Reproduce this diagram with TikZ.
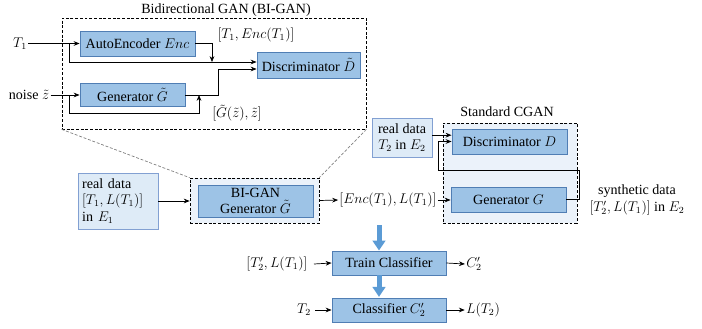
\documentclass[tikz,border=0pt]{standalone}
\usepackage{fontspec}
\setmainfont{Liberation Serif}
\usetikzlibrary{arrows.meta,positioning}
\definecolor{boxfill}{RGB}{157,195,230}
\definecolor{boxline}{RGB}{80,126,180}
\definecolor{datafill}{RGB}{222,235,247}
\definecolor{dataline}{RGB}{130,160,210}
\definecolor{lightfill}{RGB}{235,242,250}
\definecolor{bigblue}{RGB}{91,155,213}
\tikzset{
  block/.style={draw=boxline, fill=boxfill, line width=0.8pt, minimum width=3.45cm, minimum height=0.75cm, inner sep=1pt},
  databox/.style={draw=dataline, fill=datafill, line width=0.8pt, inner sep=2pt},
  dashbox/.style={draw, dash pattern=on 2.5pt off 1.5pt, line width=0.6pt, inner sep=0pt},
  lab/.style={inner sep=1pt},
  flow/.style={-{Stealth[length=5pt,width=4pt]}, line width=0.6pt},
  bigarrow/.style={-{Triangle[length=0.3cm,width=0.38cm]}, bigblue, line width=0.15cm},
}

\begin{document}
\begin{tikzpicture}[x=0.03cm, y=-0.03cm, font=\rmfamily\fontsize{12}{14}\selectfont]
  \useasboundingbox (0,0) rectangle (702,328);

  \node[dashbox, minimum width=9.12cm, minimum height=3.33cm] (bigan) at (214,73.5) {};
  \node[lab] (bigantitle) at (226,10) {Bidirectional GAN (BI-GAN)};
  \node[block] (enc) at (137.5,43.5) {AutoEncoder $Enc$};
  \node[block, minimum width=3.09cm, minimum height=0.78cm] (disc1) at (308.5,65) {Discriminator $\tilde{D}$};
  \node[block, minimum width=3.15cm, minimum height=0.69cm] (gen1) at (132.5,95) {Generator $\tilde{G}$};
  \node[lab] (t1) at (20,43.5) {$T_1$};
  \node[lab] (noise) at (29,95) {noise $\tilde{z}$};
  \node[lab] (enclab1) at (256,35) {$[T_1, Enc(T_1)]$};
  \node[lab] (genlab1) at (237,113) {$[\tilde{G}(\tilde{z}), \tilde{z}]$};

  \coordinate (b1) at (69,43.5);
  \coordinate (b2) at (212,62);
  \coordinate (b3) at (218,69);
  \coordinate (b4) at (69,95);
  \coordinate (b5) at (199,113);

  \draw[flow] (t1.east) -- (enc.west);
  \draw[flow] (b1) |- (b2 -| disc1.west);
  \draw[flow] (enc.east) -| (b2);
  \draw[flow] (gen1.east) -| (b3) -- (b3 -| disc1.west);
  \draw[flow] (noise.east) -- (gen1.west);
  \draw[flow] (b4) |- (b5) -- (b5 |- gen1.east);

  \node[dashbox, fill=lightfill, minimum width=3.87cm, minimum height=1.35cm] (sg) at (254.5,200.5) {};
  \draw[gray, dash pattern=on 2.5pt off 1.5pt, line width=0.6pt] (bigan.south west) -- (sg.north west);
  \draw[gray, dash pattern=on 2.5pt off 1.5pt, line width=0.6pt] (bigan.south east) -- (sg.north east);
  \node[block, minimum height=0.96cm, align=center, font=\rmfamily\fontsize{12}{13}\selectfont] (bigangen) at (255.5,201) {BI-GAN\\Generator $\tilde{G}$};
  \node[databox, minimum width=2.4cm, minimum height=1.68cm, text width=2.15cm, align=left] (real1) at (118,201) {real data\\$[T_1, L(T_1)]$\\in $E_1$};
  \node[lab] (enclab2) at (388,200) {$[Enc(T_1), L(T_1)]$};

  \node[dashbox, fill=lightfill, minimum width=4.02cm, minimum height=3cm] (cgan) at (510,173) {};
  \node[lab] (cgantitle) at (507,112) {Standard CGAN};
  \node[block, minimum height=0.75cm] (disc2) at (509.5,141.5) {Discriminator $D$};
  \node[block, minimum height=0.75cm] (gen2) at (508.5,199.5) {Generator $G$};
  \node[databox, minimum width=1.8cm, minimum height=1.17cm, align=center] (real2) at (402,137.5) {real data\\$T_2$ in $E_2$};
  \node[lab, align=center] (synth) at (637,200) {synthetic data\\$[T_2', L(T_1)]$ in $E_2$};

  \coordinate (d2in) at ([yshift=0.19cm]disc2.west);
  \coordinate (fb1) at (579,170);
  \coordinate (fb2) at (438,170);

  \draw[flow] (real1.east) -- (real1.east -| sg.west);
  \draw[flow] (sg.east) -- (enclab2.west);
  \draw[flow] (enclab2.east) -- (enclab2.east -| gen2.west);
  \draw[flow] (real2.east |- d2in) -- (d2in);
  \draw[flow] (gen2.east) -| (fb1) -- (fb2) |- (disc2.west);

  \node[block, minimum width=3.42cm, minimum height=0.72cm] (train) at (389,263) {Train Classifier};
  \node[block, minimum width=3.42cm, minimum height=0.72cm] (clf) at (389,310) {Classifier $C_2'$};
  \node[lab] (trainin) at (277,264) {$[T_2', L(T_1)]$};
  \node[lab] (trainout) at (474,264) {$C_2'$};
  \node[lab] (clfin) at (304,310) {$T_2$};
  \node[lab] (clfout) at (483,310) {$L(T_2)$};

  \coordinate (a1) at (379,225);

  \draw[bigarrow] (a1) -- (a1 |- train.north);
  \draw[bigarrow] (train.south -| a1) -- ([yshift=0.02cm]clf.north -| a1);
  \draw[flow] (trainin.east) ++(5,0) -- (train.west);
  \draw[flow] (train.east) -- (trainout.west);
  \draw[flow] (clfin.east) ++(3,0) -- (clf.west);
  \draw[flow] (clf.east) -- (clfout.west);

\end{tikzpicture}
\end{document}
